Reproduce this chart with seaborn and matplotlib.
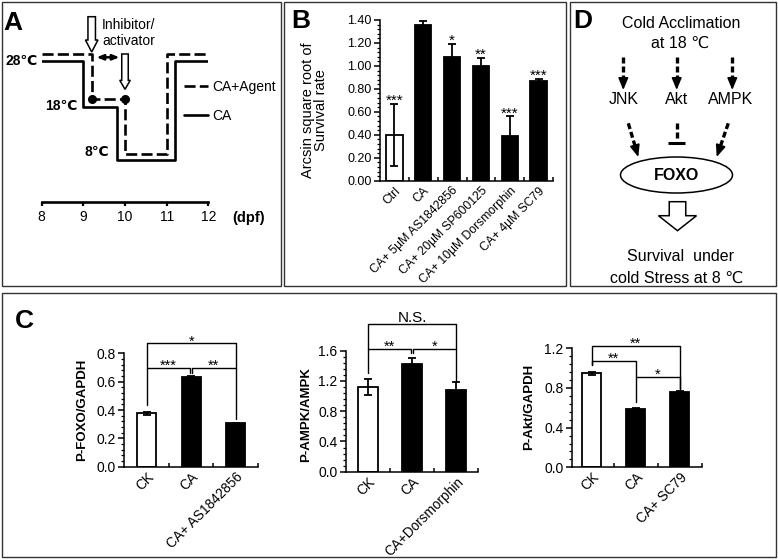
import numpy as np
import pandas as pd
import seaborn as sns
import matplotlib.pyplot as plt
from matplotlib.patches import Rectangle, Ellipse, FancyArrow
from matplotlib.ticker import MultipleLocator, FixedLocator, FormatStrFormatter

sns.set_theme(style='ticks', rc={'axes.edgecolor': 'black', 'xtick.color': 'black',
                                 'ytick.color': 'black', 'text.color': 'black',
                                 'axes.labelcolor': 'black'})
plt.rcParams['font.family'] = ['Liberation Sans', 'DejaVu Sans']

# A: temperature schedule (dpf, temperature level)
ca_days = [8, 9.0, 9.0, 9.8, 9.8, 11.2, 11.2, 12]
ca_temp = [28, 28, 18.6, 18.6, 8, 8, 28, 28]
agent_days = [8, 9.2, 9.2, 10.0, 10.0, 11.0, 11.0, 12]
agent_temp = [29.35, 29.35, 20.2, 20.2, 9.15, 9.15, 29.35, 29.35]
dose_days = [9.2, 10.0]
dpf_ticks = [8, 9, 10, 11, 12]

# B: survival
surv_groups = ['Ctrl', 'CA', 'CA+ 5µM AS1842856', 'CA+ 20µM SP600125',
               'CA+ 10µM Dorsmorphin', 'CA+ 4µM SC79']
surv_mean = [0.40, 1.36, 1.075, 1.00, 0.39, 0.87]
surv_err = [0.27, 0.035, 0.12, 0.07, 0.17, 0.02]
surv_stars = ['***', '', '*', '**', '***', '***']

# C: western blot ratios
foxo_groups = ['CK', 'CA', 'CA+ AS1842856']
foxo_mean = [0.377, 0.631, 0.306]
foxo_err = [0.010, 0.008, 0.004]
ampk_groups = ['CK', 'CA', 'CA+Dorsmorphin']
ampk_mean = [1.12, 1.42, 1.08]
ampk_err = [0.10, 0.09, 0.10]
akt_groups = ['CK', 'CA', 'CA+ SC79']
akt_mean = [0.947, 0.588, 0.756]
akt_err = [0.012, 0.010, 0.010]

W, H = 778, 560
fig = plt.figure(figsize=(W / 100, H / 100), dpi=100)


def px_axes(x0, y0, x1, y1):
    # box in pixels, origin top-left
    return fig.add_axes([x0 / W, 1 - y1 / H, (x1 - x0) / W, (y1 - y0) / H])


# overlay in pixel units for frames, labels and the diagram
ov = fig.add_axes([0, 0, 1, 1])
ov.set_xlim(0, W)
ov.set_ylim(H, 0)
ov.axis('off')

for x0, y0, x1, y1 in [(2, 2, 281.5, 286), (284.5, 2, 566, 286),
                       (570.5, 2, 776, 286), (2, 293, 776, 556.5)]:
    ov.add_patch(Rectangle((x0, y0), x1 - x0, y1 - y0, fill=False, ec='#333333', lw=1.0))

for lab, x, y in [('A', 3, 22.5), ('B', 291, 21), ('D', 573, 21), ('C', 15, 321)]:
    ov.text(x, y, lab, fontsize=19, fontweight='bold', ha='left', va='center')


def bar_panel(ax, groups, means, errs, ymax, major, fmt, width):
    df = pd.DataFrame({'group': groups, 'value': means})
    pal = {g: ('white' if i == 0 else 'black') for i, g in enumerate(groups)}
    sns.barplot(data=df, x='group', y='value', hue='group', palette=pal, width=width,
                edgecolor='black', linewidth=1.3, errorbar=None, legend=False,
                saturation=1, ax=ax)
    ax.errorbar(np.arange(len(groups)), means, yerr=errs, fmt='none', ecolor='black',
                elinewidth=1.3, capsize=3, capthick=1.3, zorder=3)
    ax.set_ylim(0, ymax)
    ax.yaxis.set_major_locator(MultipleLocator(major))
    ax.yaxis.set_minor_locator(MultipleLocator(major / 5))
    ax.yaxis.set_major_formatter(FormatStrFormatter(fmt))
    ax.xaxis.set_minor_locator(FixedLocator(np.arange(len(groups)) + 0.5))
    ax.tick_params(axis='x', which='major', length=0, pad=3)
    ax.tick_params(axis='x', which='minor', direction='in', length=3, width=1.1)
    ax.tick_params(axis='y', which='major', direction='out', length=4, width=1.1, pad=2)
    ax.tick_params(axis='y', which='minor', direction='out', length=2.2, width=0.9)
    sns.despine(ax=ax)
    for s in ['left', 'bottom']:
        ax.spines[s].set_linewidth(1.1)
    ax.set_xlabel('')
    ax.patch.set_alpha(0)


def bracket(ax, x1, x2, y, f1, f2, label, size=10.5, dy=-1.5):
    ax.plot([x1, x1, x2, x2], [f1, y, y, f2], color='black', lw=1.0, clip_on=False)
    ax.annotate(label, ((x1 + x2) / 2, y), xytext=(0, dy), textcoords='offset points',
                ha='center', va='baseline', fontsize=size, annotation_clip=False)


# ---------- A ----------
axA = px_axes(41.7, 10, 208.3, 201.7)
h_ca, = axA.plot(ca_days, ca_temp, color='black', lw=1.9, label='CA')
h_ag, = axA.plot(agent_days, agent_temp, color='black', lw=1.9, ls=(0, (4.2, 1.6)),
                 label='CA+Agent')
axA.plot(dose_days, [agent_temp[2]] * len(dose_days), 'o', color='black', ms=5.5)
axA.set_xlim(8, 12)
axA.set_ylim(-0.4, 38.2)
axA.set_xticks(dpf_ticks)
axA.set_yticks([])
for s in ['top', 'right', 'left']:
    axA.spines[s].set_visible(False)
axA.spines['bottom'].set_linewidth(1.9)
axA.tick_params(axis='x', direction='out', length=3, width=1.6, labelsize=10, pad=3)
axA.patch.set_alpha(0)
axA.legend(handles=[h_ag, h_ca], loc='upper left', bbox_to_anchor=(184 / W, 1 - 80 / H),
           bbox_transform=fig.transFigure, frameon=False, borderpad=0, borderaxespad=0,
           handlelength=1.7, handletextpad=0.3, labelspacing=1.05, fontsize=10)

for txt, x, y in [('28℃', 38, 61), ('18℃', 77, 106), ('8℃', 109, 152.5)]:
    ov.text(x, y, txt, ha='right', va='center', fontsize=10, fontweight='bold')
ov.text(102, 33, 'Inhibitor/\nactivator', ha='left', va='center', fontsize=10, linespacing=1.1)
ov.text(232, 218, '(dpf)', ha='left', va='center', fontsize=10.5, fontweight='bold')
ov.add_patch(FancyArrow(91.7, 16.7, 0, 35.3, width=7.5, head_width=12.5, head_length=12,
                        length_includes_head=True, fc='white', ec='black', lw=1.1))
ov.add_patch(FancyArrow(125, 54, 0, 35.3, width=6.5, head_width=10.5, head_length=9,
                        length_includes_head=True, fc='white', ec='black', lw=1.1))
ov.annotate('', xy=(119.5, 57.3), xytext=(96.5, 57.3),
            arrowprops=dict(arrowstyle='<|-|>,head_length=0.55,head_width=0.22',
                            color='black', lw=1.8, shrinkA=0, shrinkB=0,
                            mutation_scale=7))

# ---------- B ----------
axB = px_axes(380, 20, 553, 180.7)
bar_panel(axB, surv_groups, surv_mean, surv_err, 1.4, 0.2, '%.2f', 0.57)
axB.set_xlim(-0.5, 5.5)
axB.set_xticks(range(len(surv_groups)))
axB.set_xticklabels(surv_groups, rotation=45, ha='right', rotation_mode='anchor', fontsize=8.7)
axB.tick_params(axis='y', labelsize=9)
axB.set_ylabel('Arcsin square root of\nSurvival rate', fontsize=10.5, linespacing=0.95)
axB.yaxis.set_label_coords(-0.30, 0.44)
for i, s in enumerate(surv_stars):
    if s:
        axB.annotate(s, (i, surv_mean[i] + surv_err[i]), xytext=(0, -1),
                     textcoords='offset points', ha='center', va='baseline',
                     fontsize=11, annotation_clip=False)

# ---------- C ----------
axC1 = px_axes(124.3, 353.3, 258, 466.7)
bar_panel(axC1, foxo_groups, foxo_mean, foxo_err, 0.8, 0.2, '%.1f', 0.43)
axC1.set_xlim(-0.5, 2.5)
axC1.set_ylabel('P-FOXO/GAPDH', fontsize=9.5, fontweight='bold')
axC1.yaxis.set_label_coords(-0.27, 0.5)
bracket(axC1, 0, 0.985, 0.695, 0.435, 0.66, '***')
bracket(axC1, 1.015, 2, 0.695, 0.66, 0.335, '**')
bracket(axC1, 0, 2, 0.871, 0.695, 0.695, '*')

axC2 = px_axes(345.7, 350.7, 478.3, 471.7)
bar_panel(axC2, ampk_groups, ampk_mean, ampk_err, 1.6, 0.4, '%.1f', 0.44)
axC2.set_xlim(-0.5, 2.5)
axC2.set_ylabel('P-AMPK/AMPK', fontsize=9.5, fontweight='bold')
axC2.yaxis.set_label_coords(-0.25, 0.47)
bracket(axC2, 0, 0.985, 1.62, 1.30, 1.57, '**')
bracket(axC2, 1.015, 2, 1.62, 1.57, 1.18, '*')
bracket(axC2, 0, 2, 1.95, 1.62, 1.62, 'N.S.', size=11, dy=1.5)

axC3 = px_axes(571.7, 348.3, 701.7, 467.3)
bar_panel(axC3, akt_groups, akt_mean, akt_err, 1.2, 0.4, '%.1f', 0.43)
axC3.set_xlim(-0.46, 2.5)
axC3.set_ylabel('P-Akt/GAPDH', fontsize=9.5, fontweight='bold')
axC3.yaxis.set_label_coords(-0.28, 0.51)
bracket(axC3, 0, 1, 1.074, 1.03, 0.66, '**')
bracket(axC3, 1, 2, 0.913, 0.913, 0.79, '*')
bracket(axC3, 0, 2, 1.223, 1.03, 0.79, '**')

for ax, groups in [(axC1, foxo_groups), (axC2, ampk_groups), (axC3, akt_groups)]:
    ax.set_xticks(range(len(groups)))
    ax.set_xticklabels(groups, rotation=45, ha='right', rotation_mode='anchor', fontsize=9.8)
    ax.tick_params(axis='x', which='major', pad=2)
    ax.tick_params(axis='y', labelsize=10)

# ---------- D ----------
ov.text(681, 23.5, 'Cold Acclimation', ha='center', va='center', fontsize=11.5)
ov.text(680.5, 43.5, 'at 18 ℃', ha='center', va='center', fontsize=11.5)
for name, x in [('JNK', 624), ('Akt', 677), ('AMPK', 731)]:
    ov.text(x, 99, name, ha='center', va='center', fontsize=11.5)


def dashed_arrow(x0, y0, x1, y1):
    L = np.hypot(x1 - x0, y1 - y0)
    ux, uy = (x1 - x0) / L, (y1 - y0) / L
    xh, yh = x1 - 9 * ux, y1 - 9 * uy
    ov.plot([x0, xh], [y0, yh], color='black', lw=2.4, ls=(0, (1.8, 0.9)))
    ov.annotate('', xy=(x1, y1), xytext=(xh, yh),
                arrowprops=dict(arrowstyle='-|>,head_length=0.72,head_width=0.3',
                                color='black', lw=1.2, shrinkA=0, shrinkB=0,
                                mutation_scale=10))


for x in [623.3, 676.7, 732.3]:
    dashed_arrow(x, 57, x, 90)
dashed_arrow(628.3, 123.3, 638.3, 157)
dashed_arrow(728.3, 123.3, 716.7, 157)
ov.plot([676.7, 676.7], [123, 141], color='black', lw=2.4, ls=(0, (1.8, 0.9)))
ov.plot([668, 685.5], [142.5, 142.5], color='black', lw=2.2, solid_capstyle='butt')
ov.add_patch(Ellipse((676.5, 175), 112, 36, fc='white', ec='black', lw=1.1))
ov.text(676.5, 176, 'FOXO', ha='center', va='center', fontsize=11.5, fontweight='bold')
ov.add_patch(FancyArrow(677.5, 201.7, 0, 29, width=16.5, head_width=38, head_length=15,
                        length_includes_head=True, fc='white', ec='black', lw=1.1))
ov.text(681, 256.7, 'Survival  under', ha='center', va='center', fontsize=11.5)
ov.text(676.5, 278.3, 'cold Stress at 8 ℃', ha='center', va='center', fontsize=11.5)

fig.savefig('out.png', dpi=100)
